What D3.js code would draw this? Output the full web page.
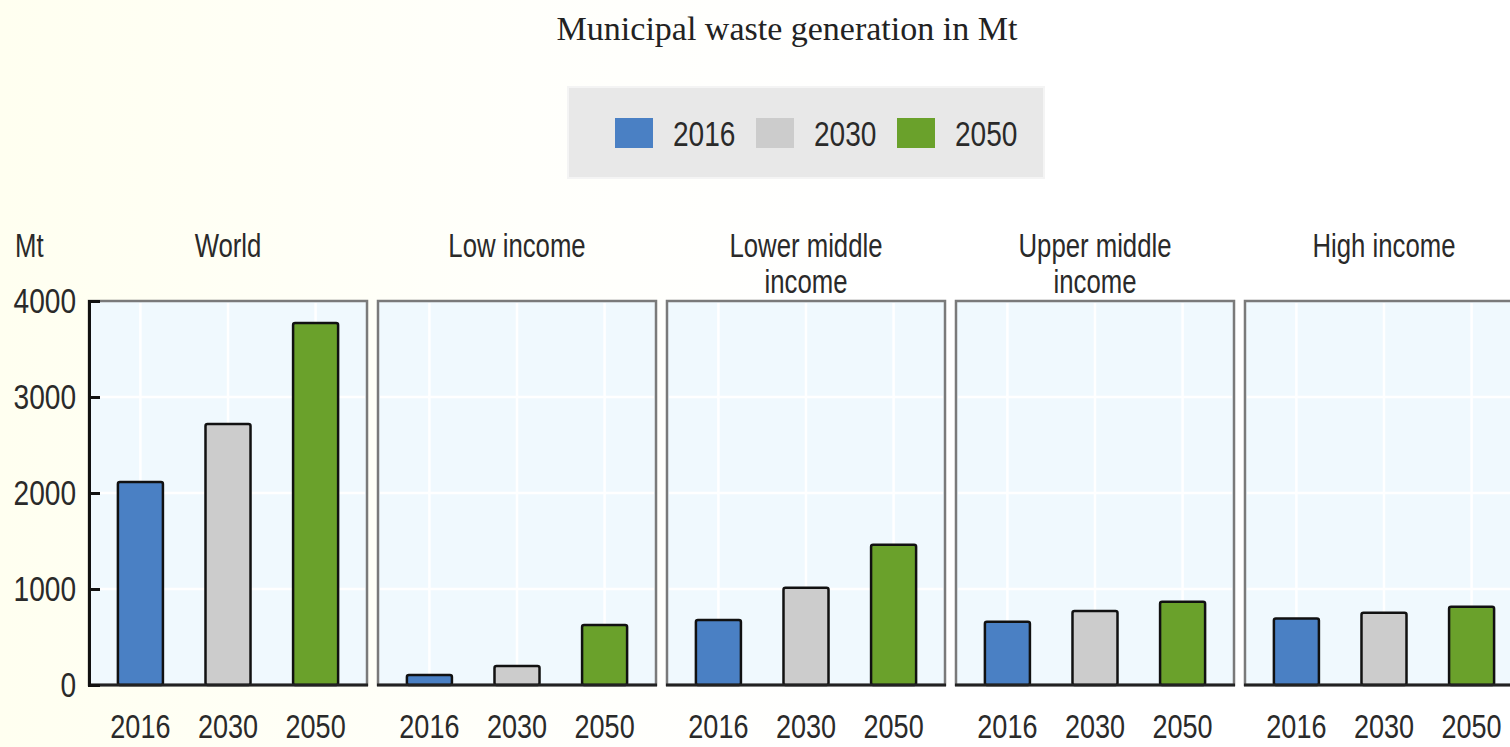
<!doctype html>
<html lang="en">
<head>
  <meta charset="utf-8">
  <title>Municipal waste generation in Mt</title>
  <script type="text/javascript" src="https://cdnjs.cloudflare.com/ajax/libs/d3/7.8.5/d3.min.js"></script>
  <style>
    body { margin: 0; background: #fff; }
    svg { display: block; }
  </style>
</head>
<body>
  <svg width="1510" height="747" id="svg"></svg>
</body>
<script type="text/javascript">

	// data (Mt)
	var regions = ['World', 'Low income', 'Lower middle income', 'Upper middle income', 'High income'];
	var regionLabels = [['World'], ['Low income'], ['Lower middle', 'income'], ['Upper middle', 'income'], ['High income']];
	var years = ['2016', '2030', '2050'];
	var values2016 = [2115, 104, 677, 660, 694];
	var values2030 = [2720, 198, 1012, 770, 753];
	var values2050 = [3770, 625, 1460, 868, 816];
	var yTicks = [0, 1000, 2000, 3000, 4000];

	var colors = ['#4a80c4', '#cccccc', '#6aa12b'];
	var series = [values2016, values2030, values2050];

	var svg = d3.select('#svg');

	// page background: pale yellow fading to white
	var defs = svg.append('defs');
	var grad = defs.append('linearGradient').attr('id', 'bg').attr('x1', 0).attr('x2', 1).attr('y1', 0).attr('y2', 0);
	grad.append('stop').attr('offset', '0%').attr('stop-color', '#fffff0');
	grad.append('stop').attr('offset', '35%').attr('stop-color', '#fffffb');
	grad.append('stop').attr('offset', '60%').attr('stop-color', '#ffffff');
	svg.append('rect').attr('width', 1510).attr('height', 747).attr('fill', 'url(#bg)');

	// condensed look of the original lettering
	function label(g, x, y, txt, size, anchor, sx) {
		return g.append('text')
			.attr('transform', 'translate(' + x + ',' + y + ') scale(' + (sx || 0.78) + ',1)')
			.attr('text-anchor', anchor || 'middle')
			.attr('dominant-baseline', 'central')
			.style('font-family', '"Liberation Sans", Arial, sans-serif')
			.style('font-size', size + 'px')
			.attr('fill', '#2a2a2a')
			.text(txt);
	}

	// title
	svg.append('text')
		.attr('x', 787).attr('y', 28)
		.attr('text-anchor', 'middle')
		.attr('dominant-baseline', 'central')
		.style('font-family', '"Liberation Serif", "Times New Roman", serif')
		.style('font-size', '34px')
		.attr('fill', '#222')
		.text('Municipal waste generation in Mt');

	// legend
	var legend = svg.append('g');
	legend.append('rect')
		.attr('x', 568).attr('y', 87).attr('width', 476).attr('height', 91)
		.attr('fill', '#e8e8e8').attr('stroke', '#f4f4f4').attr('stroke-width', 2);
	years.forEach(function(yr, i) {
		var lx = 615 + i * 141;
		legend.append('rect')
			.attr('x', lx).attr('y', 118).attr('width', 38).attr('height', 30)
			.attr('fill', colors[i]);
		label(legend, lx + 58, 134, yr, 36, 'start');
	});

	// scales
	var panel = d3.scaleBand()
		.domain(regions)
		.range([89, 1523])
		.paddingInner(0.038);

	var x = d3.scaleBand()
		.domain(years)
		.range([0, panel.bandwidth()])
		.paddingInner(0.486)
		.paddingOuter(0.33);

	var y = d3.scaleLinear()
		.domain([0, 4000])
		.range([685, 301]);

	// panels
	regions.forEach(function(r, i) {
		var g = svg.append('g').attr('transform', 'translate(' + panel(r) + ',0)');
		var w = panel.bandwidth();

		g.append('rect')
			.attr('x', 0).attr('y', y(4000)).attr('width', w).attr('height', y(0) - y(4000))
			.attr('fill', '#f0f9fe').attr('stroke', '#7a7a7a').attr('stroke-width', 2.5);

		// faint white grid
		g.selectAll('.hg').data(yTicks.slice(1, 4)).enter().append('line')
			.attr('x1', 2).attr('x2', w - 2)
			.attr('y1', function(d) { return y(d); }).attr('y2', function(d) { return y(d); })
			.attr('stroke', '#ffffff').attr('stroke-width', 2.5);
		g.selectAll('.vg').data(years).enter().append('line')
			.attr('x1', function(d) { return x(d) + x.bandwidth() / 2; })
			.attr('x2', function(d) { return x(d) + x.bandwidth() / 2; })
			.attr('y1', y(4000) + 2).attr('y2', y(0))
			.attr('stroke', '#ffffff').attr('stroke-width', 2.5);

		// bars
		g.selectAll('.bar').data(years).enter().append('rect')
			.attr('x', function(d) { return x(d); })
			.attr('y', function(d, j) { return y(series[j][i]); })
			.attr('width', x.bandwidth())
			.attr('height', function(d, j) { return y(0) - y(series[j][i]); })
			.attr('rx', 2)
			.attr('fill', function(d, j) { return colors[j]; })
			.attr('stroke', '#111').attr('stroke-width', 2.5);

		// baseline
		g.append('line')
			.attr('x1', -1).attr('x2', w + 1)
			.attr('y1', y(0)).attr('y2', y(0))
			.attr('stroke', '#222').attr('stroke-width', 3);

		// x tick labels
		years.forEach(function(yr) {
			label(g, x(yr) + x.bandwidth() / 2, 727, yr, 33, 'middle', 0.82);
		});

		// panel title
		regionLabels[i].forEach(function(t, k) {
			label(g, w / 2, 245 + k * 36, t, 33);
		});
	});

	// y axis on first panel
	var yAxis = svg.append('g')
		.attr('transform', 'translate(' + panel(regions[0]) + ',0)')
		.call(d3.axisRight(y).tickValues(yTicks).tickSize(11).tickFormat(''));
	yAxis.select('.domain').attr('stroke', '#111').attr('stroke-width', 3);
	yAxis.selectAll('.tick line').attr('stroke', '#111').attr('stroke-width', 3);

	yTicks.forEach(function(t) {
		label(svg, 76, y(t), String(t), 36, 'end');
	});
	label(svg, 15, 245, 'Mt', 33, 'start');

</script>
</html>
